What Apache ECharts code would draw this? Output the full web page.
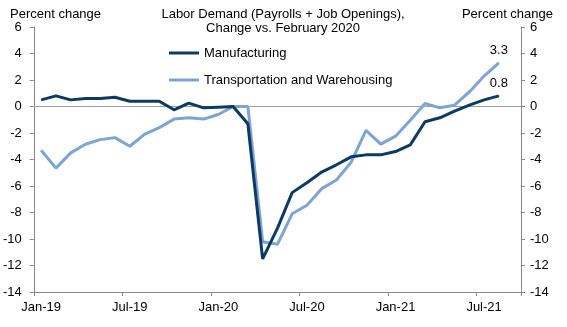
<!DOCTYPE html>
<html>
<head>
<meta charset="utf-8">
<script src="https://cdn.jsdelivr.net/npm/echarts@6/dist/echarts.min.js"></script>
<style>
html,body{margin:0;padding:0;background:#fff;}
#chart{width:567px;height:327px;}
</style>
</head>
<body>
<div id="chart"></div>
<script>
const months = ["Jan-19","Feb-19","Mar-19","Apr-19","May-19","Jun-19","Jul-19","Aug-19","Sep-19","Oct-19","Nov-19","Dec-19",
  "Jan-20","Feb-20","Mar-20","Apr-20","May-20","Jun-20","Jul-20","Aug-20","Sep-20","Oct-20","Nov-20","Dec-20",
  "Jan-21","Feb-21","Mar-21","Apr-21","May-21","Jun-21","Jul-21","Aug-21","Sep-21"];
const manufacturing = [0.5,0.8,0.5,0.6,0.6,0.7,0.4,0.4,0.4,-0.25,0.25,-0.1,
  -0.05,0,-1.3,-11.5,-9.2,-6.5,-5.75,-4.95,-4.4,-3.8,-3.65,-3.65,
  -3.4,-2.9,-1.15,-0.85,-0.35,0.1,0.5,0.8,null];
const transportation = [-3.3,-4.65,-3.5,-2.85,-2.5,-2.35,-3.0,-2.1,-1.6,-0.95,-0.85,-0.95,
  -0.6,0,0,-10.2,-10.4,-8.1,-7.45,-6.2,-5.55,-4.2,-1.8,-2.84,
  -2.24,-1.03,0.23,-0.1,0.1,1.1,2.3,3.3,null];
const yMin = -14, yMax = 6, yStep = 2;

const font = "Liberation Sans, Arial, sans-serif";
const axisGray = "#888888";
const darkBlue = "#0C3A62";
const lightBlue = "#7DA4D3";

function lastLabel(arr) {
  let last = -1;
  arr.forEach((v, i) => { if (v !== null) last = i; });
  return arr.map((v, i) => i === last
    ? { value: v, symbolSize: 1, label: { show: true, position: 'top', distance: 5,
        formatter: p => Number(p.value).toFixed(1),
        color: '#000', fontSize: 13, fontFamily: font } }
    : { value: v, symbolSize: 0 });
}

const chart = echarts.init(document.getElementById('chart'), null, { renderer: 'canvas' });
const yAxisBase = {
  type: 'value', min: yMin, max: yMax, interval: yStep,
  axisLine: { show: true, lineStyle: { color: axisGray, width: 1 } },
  axisTick: { show: true, length: 4, lineStyle: { color: axisGray } },
  splitLine: { show: false },
  axisLabel: { color: '#000', fontSize: 13, fontFamily: font }
};
chart.setOption({
  animation: false,
  backgroundColor: '#fff',
  textStyle: { fontFamily: font },
  grid: { left: 33, right: 46, top: 27, bottom: 35, containLabel: false },
  graphic: [
    { type: 'text', x: 10, y: 8, style: { text: 'Percent change', fill: '#000', font: '13px ' + font, textAlign: 'left' } },
    { type: 'text', x: 553, y: 8, style: { text: 'Percent change', fill: '#000', font: '13px ' + font, textAlign: 'right' } },
    { type: 'text', x: 283, y: 7, style: { text: 'Labor Demand (Payrolls + Job Openings),\nChange vs. February 2020',
        fill: '#000', font: '13px ' + font, textAlign: 'center', lineHeight: 14.5 } }
  ],
  legend: {
    orient: 'vertical', left: 169, top: 46, padding: 0, itemWidth: 30, itemHeight: 3, itemGap: 13,
    icon: 'rect',
    textStyle: { color: '#000', fontSize: 13, fontFamily: font, lineHeight: 14 },
    data: ['Manufacturing', 'Transportation and Warehousing']
  },
  xAxis: {
    type: 'category', data: months, boundaryGap: true,
    axisLine: { show: true, onZero: false, lineStyle: { color: axisGray, width: 1 } },
    axisTick: { show: true, interval: 5, length: 4, lineStyle: { color: axisGray } },
    axisLabel: { interval: 5, color: '#000', fontSize: 13, fontFamily: font, margin: 9 },
    splitLine: { show: false }
  },
  yAxis: [
    Object.assign({}, yAxisBase, { position: 'left', axisLabel: Object.assign({}, yAxisBase.axisLabel, { margin: 12 }) }),
    Object.assign({}, yAxisBase, { position: 'right', axisLabel: Object.assign({}, yAxisBase.axisLabel, { margin: 9 }) })
  ],
  series: [
    {
      name: 'Manufacturing', type: 'line', yAxisIndex: 0,
      data: lastLabel(manufacturing), showSymbol: true, symbol: 'circle',
      lineStyle: { color: darkBlue, width: 3 }, itemStyle: { color: darkBlue },
      z: 3,
      markLine: { silent: true, symbol: 'none', label: { show: false },
        lineStyle: { color: '#A0A0A0', width: 1, type: 'solid' }, data: [{ yAxis: 0 }], z: 1 }
    },
    {
      name: 'Transportation and Warehousing', type: 'line', yAxisIndex: 1,
      data: lastLabel(transportation), showSymbol: true, symbol: 'circle',
      lineStyle: { color: lightBlue, width: 3 }, itemStyle: { color: lightBlue },
      z: 2
    }
  ]
});
</script>
</body>
</html>
